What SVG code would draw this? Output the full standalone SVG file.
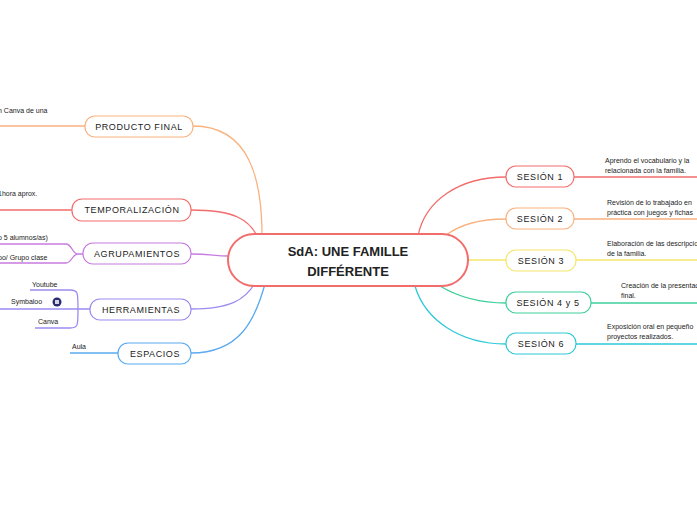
<svg xmlns="http://www.w3.org/2000/svg" width="697" height="520" viewBox="0 0 697 520">
<style>
text{font-family:"Liberation Sans",Arial,sans-serif;fill:#222}
.n{font-size:9px;letter-spacing:0.6px;text-anchor:middle}
.s{font-size:7px}
.b{fill:#fff;stroke-width:1.2}
.c{fill:none;stroke-width:1.3}
</style>
<rect width="697" height="520" fill="#fff"/>
<g id="connectors">
<path class="c" stroke="#f9b27f" d="M193,126 C250,126 262,180 262,236 M0,126 H85"/>
<path class="c" stroke="#f36c6c" d="M191,210 C235,210 250,220 258,238 M0,210 H72"/>
<path class="c" stroke="#c77be0" d="M191,254 C210,254 215,256 228,256 M83,254 H78 C72,254 72,244 66,244 H0 M78,254 C72,254 72,263 66,263 H0"/>
<path class="c" stroke="#9b8cf0" d="M191,309 C230,309 245,300 255,283 M90,309 H0 M78,309 C78,292 78,290 70,290 H30 M78,309 C78,326 78,328 70,328 H35"/>
<path class="c" stroke="#5aaaf0" d="M191,353 C240,353 255,320 265,284 M70,353 H118"/>
<path class="c" stroke="#f36c6c" d="M418,236 C425,200 460,177 506,177 M574,177 H697"/>
<path class="c" stroke="#f9b27f" d="M445,236 C460,224 480,219 506,219 M574,219 H697"/>
<path class="c" stroke="#f5e66a" d="M468,260 H506 M576,260 H697"/>
<path class="c" stroke="#3ecf9a" d="M440,286 C460,298 480,303 506,303 M591,303 H697"/>
<path class="c" stroke="#2fc9d6" d="M415,286 C425,320 460,344 506,344 M576,344 H697"/>
</g>
<g id="center"><rect x="228" y="234" width="240" height="52" rx="26" fill="#fff" stroke="#f36c6c" stroke-width="2"/>
<text x="348" y="256" font-size="13" font-weight="bold" text-anchor="middle">SdA: UNE FAMILLE</text>
<text x="348" y="276" font-size="13" font-weight="bold" text-anchor="middle">DIFFÉRENTE</text></g>
<g id="producto"><rect class="b" stroke="#f9b27f" x="85" y="116" width="108" height="21" rx="10"/><text class="n" x="139" y="130">PRODUCTO FINAL</text><text class="s" x="-2" y="113">n Canva de una</text></g>
<g id="temporalizacion"><rect class="b" stroke="#f36c6c" x="72" y="199" width="119" height="22" rx="10"/><text class="n" x="132" y="213">TEMPORALIZACIÓN</text><text class="s" x="-2" y="196">1hora aprox.</text></g>
<g id="agrupamientos"><rect class="b" stroke="#c77be0" x="83" y="243" width="108" height="21" rx="10"/><text class="n" x="137" y="257">AGRUPAMIENTOS</text><text class="s" x="-2" y="240">o 5 alumnos/as)</text><text class="s" x="-2" y="260">po/ Grupo clase</text></g>
<g id="herramientas"><rect class="b" stroke="#9b8cf0" x="90" y="299" width="101" height="21" rx="10"/><text class="n" x="141" y="313">HERRAMIENTAS</text>
<text class="s" x="32" y="287">Youtube</text><text class="s" x="11" y="304">Symbaloo</text><circle cx="57" cy="302" r="4.5" fill="#2b2d6e"/><rect x="55" y="300" width="4" height="4" fill="#fff" opacity="0.8"/><text class="s" x="38" y="324">Canva</text></g>
<g id="espacios"><rect class="b" stroke="#5aaaf0" x="118" y="343" width="73" height="21" rx="10"/><text class="n" x="155" y="357">ESPACIOS</text><text class="s" x="72" y="349">Aula</text></g>
<g id="s1"><rect class="b" stroke="#f36c6c" x="506" y="166" width="68" height="21" rx="10"/><text class="n" x="540" y="180">SESIÓN 1</text><text class="s" x="605" y="163">Aprendo el vocabulario y la</text><text class="s" x="605" y="173">relacionada con la familia.</text></g>
<g id="s2"><rect class="b" stroke="#f9b27f" x="506" y="208" width="68" height="21" rx="10"/><text class="n" x="540" y="222">SESIÓN 2</text><text class="s" x="607" y="205">Revisión de lo trabajado en</text><text class="s" x="607" y="215">práctica con juegos y fichas</text></g>
<g id="s3"><rect class="b" stroke="#f5e66a" x="506" y="250" width="70" height="21" rx="10"/><text class="n" x="541" y="264">SESIÓN 3</text><text class="s" x="607" y="246">Elaboración de las descripciones</text><text class="s" x="607" y="256">de la familia.</text></g>
<g id="s45"><rect class="b" stroke="#3ecf9a" x="506" y="292" width="85" height="21" rx="10"/><text class="n" x="548" y="306">SESIÓN 4 y 5</text><text class="s" x="621" y="288">Creación de la presentación</text><text class="s" x="621" y="298">final.</text></g>
<g id="s6"><rect class="b" stroke="#2fc9d6" x="506" y="333" width="70" height="21" rx="10"/><text class="n" x="541" y="347">SESIÓN 6</text><text class="s" x="607" y="329">Exposición oral en pequeño</text><text class="s" x="607" y="339">proyectos realizados.</text></g>
</svg>
